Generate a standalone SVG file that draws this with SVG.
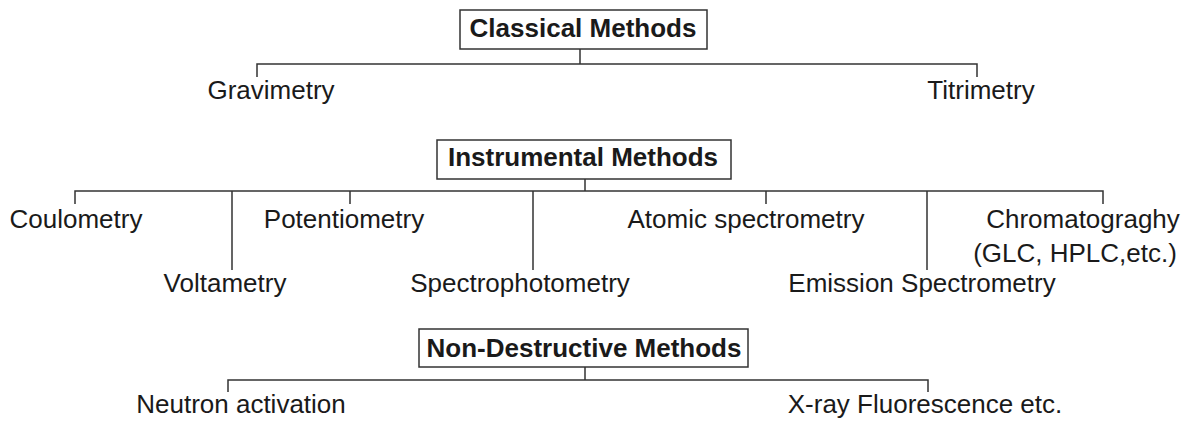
<svg xmlns="http://www.w3.org/2000/svg" width="1186" height="421" viewBox="0 0 1186 421">
<style>
.box{fill:#fff;stroke:#333;stroke-width:1.5}
.ln{fill:none;stroke:#333;stroke-width:1.5}
.h{font-family:"Liberation Sans",Arial,sans-serif;font-weight:bold;font-size:26px;fill:#1a1a1a;text-anchor:middle}
.t{font-family:"Liberation Sans",Arial,sans-serif;font-size:26px;fill:#1a1a1a;text-anchor:middle}
</style>
<rect width="1186" height="421" fill="#fff"/>
<g id="connectors">
<path class="ln" d="M580 49V64M257 77V64H977V77"/>
<path class="ln" d="M585 179V191M75 204V191H1103V204M232 191V270M350 191V204M533 191V270M766 191V204M927 191V270"/>
<path class="ln" d="M585 367V380M228 392V380H928V392"/>
</g>
<g id="classical"><rect class="box" x="460" y="10" width="247" height="39"/><text class="h" x="583" y="37">Classical Methods</text></g>
<g id="gravimetry"><text class="t" x="271" y="99">Gravimetry</text></g>
<g id="titrimetry"><text class="t" x="981" y="99">Titrimetry</text></g>
<g id="instrumental"><rect class="box" x="437" y="140" width="294" height="39"/><text class="h" x="583" y="166">Instrumental Methods</text></g>
<g id="coulometry"><text class="t" x="76" y="228">Coulometry</text></g>
<g id="voltametry"><text class="t" x="225" y="292">Voltametry</text></g>
<g id="potentiometry"><text class="t" x="344" y="228">Potentiometry</text></g>
<g id="spectrophotometry"><text class="t" x="520" y="292">Spectrophotometry</text></g>
<g id="atomic"><text class="t" x="746" y="228">Atomic spectrometry</text></g>
<g id="emission"><text class="t" x="922" y="292">Emission Spectrometry</text></g>
<g id="chromatography"><text class="t" x="1083" y="228">Chromatograghy</text><text class="t" x="1075" y="262">(GLC, HPLC,etc.)</text></g>
<g id="nondestructive"><rect class="box" x="419" y="329" width="329" height="38"/><text class="h" x="584" y="357">Non-Destructive Methods</text></g>
<g id="neutron"><text class="t" x="241" y="413">Neutron activation</text></g>
<g id="xray"><text class="t" x="925" y="413">X-ray Fluorescence etc.</text></g>
</svg>
